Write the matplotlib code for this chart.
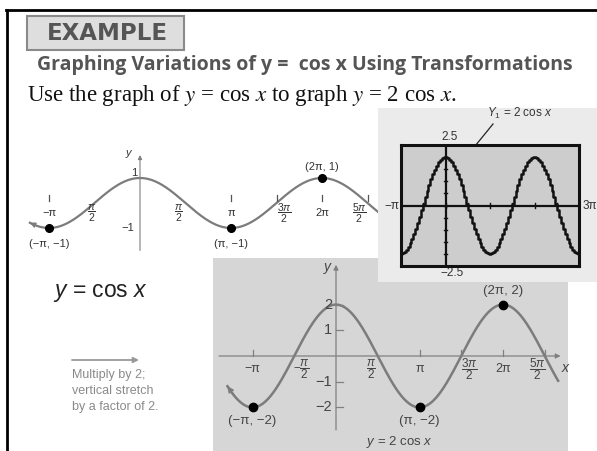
import numpy as np
import matplotlib
matplotlib.use("Agg")
import matplotlib.pyplot as plt
from matplotlib.patches import Rectangle

W, H = 597, 451
PI = np.pi

plt.rcParams['font.family'] = ['Liberation Sans', 'DejaVu Sans']
plt.rcParams['mathtext.fontset'] = 'custom'
plt.rcParams['mathtext.rm'] = 'Liberation Sans'
plt.rcParams['mathtext.it'] = 'Liberation Sans:italic'
plt.rcParams['mathtext.bf'] = 'Liberation Sans:bold'

# --- data ---
amp_base = 1
amp_stretch = 2
base_span = (-1.21 * PI, 2.62 * PI)
stretch_span = (-1.30 * PI, 2.66 * PI)
screen_x = (-PI, 3 * PI)
screen_y = (-2.5, 2.5)
screen_pixels = 95

tick_x = [-PI, PI, 1.5 * PI, 2 * PI, 2.5 * PI]
label_x = [-PI, -PI / 2, PI / 2, PI, 1.5 * PI, 2 * PI, 2.5 * PI]
top_labels = ['−π', r'$\dfrac{\pi}{2}$', r'$\dfrac{\pi}{2}$', 'π',
              r'$\dfrac{3\pi}{2}$', '2π', r'$\dfrac{5\pi}{2}$']
bottom_labels = ['−π', r'$-\dfrac{\pi}{2}$', r'$\dfrac{\pi}{2}$', 'π',
                 r'$\dfrac{3\pi}{2}$', '2π', r'$\dfrac{5\pi}{2}$']
top_nudge = [0, -3, -7, 0, 8, 0, -8]
bottom_nudge = [0, 7, -7, 0, 8, 0, -7]

key_x = [-PI, PI, 2 * PI]
base_key_text = ['(−π, −1)', '(π, −1)', '(2π, 1)']
stretch_key_text = ['(−π, −2)', '(π, −2)', '(2π, 2)']
bottom_y = [2, 1, -1, -2]
bottom_ylabels = ['2', '1', '−1', '−2']

curve_grey = '#7c7c7c'
axis_grey = '#808080'
text_dark = '#333333'

fig = plt.figure(figsize=(W / 100, H / 100), dpi=100)


def pixel_axes(left, top, right, bottom):
    return fig.add_axes([left / W, 1 - bottom / H, (right - left) / W, (bottom - top) / H])


def graph_axes(left, top, right, bottom, ox, oy, sx, sy):
    ax = pixel_axes(left, top, right, bottom)
    ax.set_xlim((left - ox) / sx, (right - ox) / sx)
    ax.set_ylim((oy - bottom) / sy, (oy - top) / sy)
    ax.axis('off')
    return ax


def arrow(ax, tip, tail, color, lw, style='-|>', scale=8):
    ax.annotate('', xy=tip, xytext=tail,
                arrowprops=dict(arrowstyle=style, color=color, lw=lw,
                                mutation_scale=scale, shrinkA=0, shrinkB=0))


# page background, frame and heading
bg = pixel_axes(0, 0, W, H)
bg.set_xlim(0, W)
bg.set_ylim(H, 0)
bg.axis('off')
bg.plot([7, 7], [10, H], color='black', lw=2)
bg.plot([6, W], [10, 10], color='black', lw=2)
bg.add_patch(Rectangle((27, 16), 157, 34, facecolor='#dedede', edgecolor='#8a8a8a', lw=1.5))
bg.text(107, 34, 'EXAMPLE', ha='center', va='center', fontsize=16.5, fontweight='bold',
        color='#555555', family='DejaVu Sans')
bg.text(37, 65, 'Graphing Variations of y =  cos x Using Transformations', ha='left',
        va='center', fontsize=14, fontweight='bold', color='#555555', family='Open Sans')
bg.text(27, 95, r'Use the graph of $y$ = cos $x$ to graph $y$ = 2 cos $x$.', ha='left',
        va='center', fontsize=16.5, color='#111111', family='Liberation Serif',
        math_fontfamily='stix')

bg.text(53, 292, r'$y$ = cos $x$', ha='left', va='center', fontsize=16.5, color='#222222')
arrow(bg, (139, 360), (72, 360), '#9a9a9a', 1.3)
bg.text(72, 369, 'Multiply by 2;\nvertical stretch\nby a factor of 2.', ha='left', va='top',
        fontsize=9, color='#8a8a8a', linespacing=1.45)

# y = cos x
top = graph_axes(20, 145, 380, 255, 140, 203, 91 / PI, 25)
xb = np.linspace(base_span[0], base_span[1], 400)
top.plot(xb, amp_base * np.cos(xb), color=curve_grey, lw=1.6)
arrow(top, (xb[0], amp_base * np.cos(xb[0])), (xb[8], amp_base * np.cos(xb[8])),
      curve_grey, 1.2, style='->', scale=7)
arrow(top, (0, 1.92), (0, -1.9), axis_grey, 0.8, scale=6)
top.text(-0.3, 2.0, 'y', style='italic', fontsize=8, color=text_dark, ha='right', va='center')
for t in tick_x:
    top.plot([t, t], [0.08, 0.32], color='#555555', lw=0.9)
for x, lab, dx in zip(label_x, top_labels, top_nudge):
    top.annotate(lab, (x, 0), xytext=(dx, -10), textcoords='offset pixels', ha='center',
                 va='center', fontsize=8 if '$' not in lab else 7.5, color=text_dark)
top.text(-0.2, 1.2, '1', fontsize=8, color=text_dark, ha='center', va='center')
top.text(-0.42, -1.0, '−1', fontsize=8, color=text_dark, ha='center', va='center')
top.plot(key_x, amp_base * np.cos(key_x), 'o', color='black', ms=5.5)
for x, lab in zip(key_x, base_key_text):
    y = amp_base * np.cos(x)
    top.annotate(lab, (x, y), xytext=(0, -16 if y < 0 else 11), textcoords='offset pixels',
                 ha='center', va='center', fontsize=8, color=text_dark)

# y = 2 cos x
bot = graph_axes(213, 258, 568, H, 336, 356, 83.5 / PI, 25.7)
bot.add_patch(Rectangle((0, 0), 1, 1, transform=bot.transAxes, facecolor='#d6d6d6',
                        edgecolor='none', zorder=0))
arrow(bot, (8.45, 0), (-4.4, 0), axis_grey, 0.9, scale=7)
arrow(bot, (0, 3.55), (0, -2.88), axis_grey, 0.9, scale=7)
bot.text(-0.2, 3.45, 'y', style='italic', fontsize=10, color='#444444', ha='right', va='center')
bot.text(8.6, -0.45, 'x', style='italic', fontsize=10, color='#444444', ha='center', va='center')
xs = np.linspace(stretch_span[0], stretch_span[1], 400)
bot.plot(xs, amp_stretch * np.cos(xs), color=curve_grey, lw=1.8)
arrow(bot, (xs[0], amp_stretch * np.cos(xs[0])), (xs[8], amp_stretch * np.cos(xs[8])),
      curve_grey, 1.3, style='->', scale=8)
for t in tick_x:
    bot.plot([t, t], [0, 0.25], color=axis_grey, lw=0.9)
for v in bottom_y:
    bot.plot([0, 0.26], [v, v], color=axis_grey, lw=0.9)
for x, lab, dx in zip(label_x, bottom_labels, bottom_nudge):
    bot.annotate(lab, (x, 0), xytext=(dx, -13), textcoords='offset pixels',
                 ha='center', va='center', fontsize=9 if '$' not in lab else 8.5,
                 color='#444444')
for v, lab in zip(bottom_y, bottom_ylabels):
    bot.annotate(lab, (0, v), xytext=(-4, 0), textcoords='offset pixels', ha='right',
                 va='center', fontsize=10.5, color='#444444')
bot.plot(key_x, amp_stretch * np.cos(key_x), 'o', color='black', ms=6)
for x, lab in zip(key_x, stretch_key_text):
    y = amp_stretch * np.cos(x)
    bot.annotate(lab, (x, y), xytext=(0, -14 if y < 0 else 14), textcoords='offset pixels',
                 ha='center', va='center', fontsize=9.5, color='#444444')
bot.text(2.4, -3.36, r'$y$ = 2 cos $x$', ha='center', va='center', fontsize=9.5,
         color='#444444')

# graphing calculator window
panel = pixel_axes(378, 108, W, 282)
panel.set_xlim(378, W)
panel.set_ylim(282, 108)
panel.set_facecolor('#ebebeb')
for s in panel.spines.values():
    s.set_visible(False)
panel.set_xticks([])
panel.set_yticks([])
panel.text(450, 137, '2.5', ha='center', va='center', fontsize=8.5, color=text_dark)
panel.text(452, 273, '−2.5', ha='center', va='center', fontsize=8.5, color=text_dark)
panel.text(392, 206, '−π', ha='center', va='center', fontsize=8.5, color=text_dark)
panel.text(590, 206, '3π', ha='center', va='center', fontsize=8.5, color=text_dark)
panel.text(520, 113, r'$Y_1$ = 2 cos $x$', ha='center', va='center', fontsize=8.5,
           color=text_dark)
panel.plot([493, 462], [124, 162], color='#222222', lw=0.9)

screen = pixel_axes(401, 145, 579, 266)
screen.set_xlim(*screen_x)
screen.set_ylim(*screen_y)
screen.set_facecolor('#cdcdcd')
for s in screen.spines.values():
    s.set_linewidth(2.2)
    s.set_color('#111111')
screen.set_xticks([])
screen.set_yticks([])
screen.axhline(0, color='#111111', lw=1.6)
screen.axvline(0, color='#111111', lw=1.6)
for t in np.arange(-PI / 2, 3 * PI, PI / 2):
    screen.plot([t, t], [-0.1, 0.1], color='#111111', lw=1)
for v in np.arange(-2.0, 2.01, 0.5):
    screen.plot([-0.08, 0.08], [v, v], color='#111111', lw=1)
xp = np.linspace(screen_x[0], screen_x[1], screen_pixels)
screen.plot(xp, amp_stretch * np.cos(xp), color='#111111', lw=1.8, drawstyle='steps-mid')

bg.set_zorder(0)
top.set_zorder(1)
bot.set_zorder(2)
panel.set_zorder(3)
screen.set_zorder(4)

fig.savefig('out.png', dpi=100)
